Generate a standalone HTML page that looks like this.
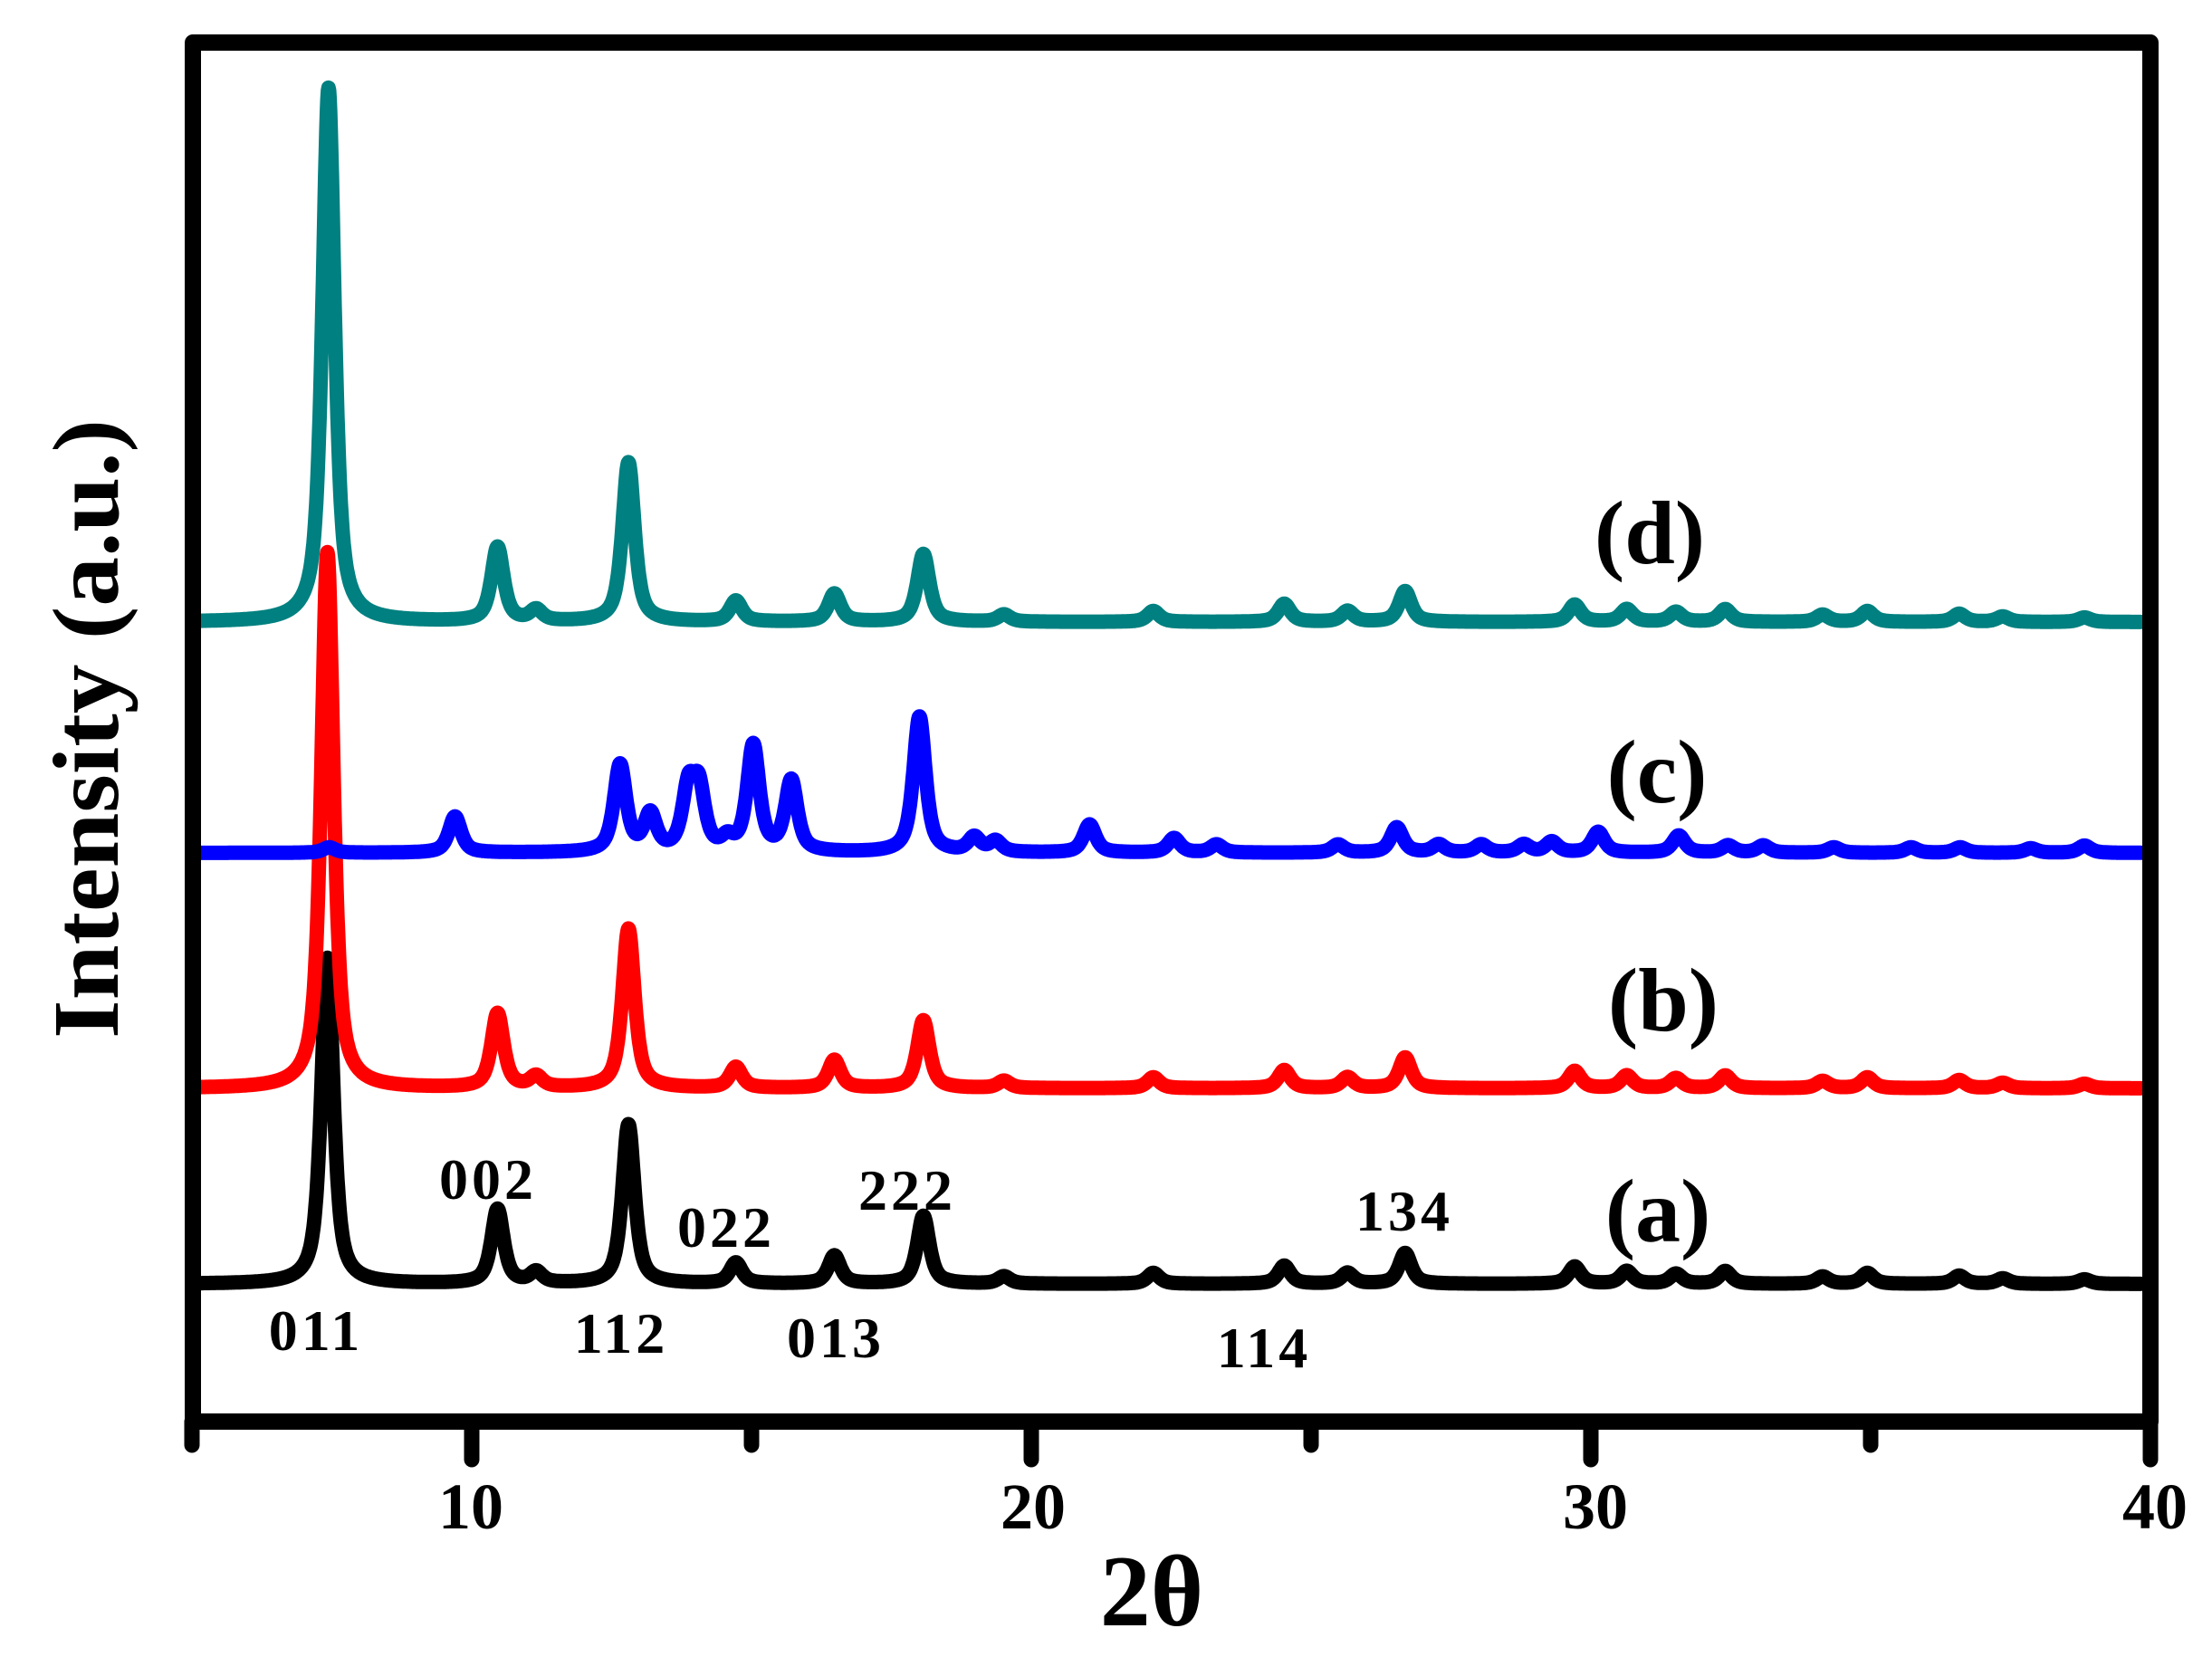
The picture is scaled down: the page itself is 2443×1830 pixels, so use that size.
<!DOCTYPE html>
<html><head><meta charset="utf-8"><style>
html,body{margin:0;padding:0;background:#fff;}
svg{display:block;}
text{font-family:"Liberation Serif","DejaVu Serif",serif;font-weight:bold;fill:#000;}
</style></head><body>
<svg id="s" width="2443" height="1830" viewBox="0 0 2443 1830" xmlns="http://www.w3.org/2000/svg">
<g id="curves" fill="none" stroke-width="16" stroke-linejoin="round" stroke-linecap="round"></g>
<rect x="213" y="47" width="2162" height="1523" fill="none" stroke="#000" stroke-width="18" stroke-linejoin="round"/>
<g stroke="#000" stroke-width="17" stroke-linecap="round">
<line x1="212" y1="1570" x2="212" y2="1596"/>
<line x1="521" y1="1570" x2="521" y2="1612"/>
<line x1="830" y1="1570" x2="830" y2="1596"/>
<line x1="1139" y1="1570" x2="1139" y2="1612"/>
<line x1="1448" y1="1570" x2="1448" y2="1596"/>
<line x1="1757" y1="1570" x2="1757" y2="1612"/>
<line x1="2066" y1="1570" x2="2066" y2="1596"/>
<line x1="2375" y1="1570" x2="2375" y2="1612"/>
</g>
<g font-size="72" text-anchor="middle">
<text x="520" y="1688">10</text>
<text x="1141" y="1688">20</text>
<text x="1762" y="1688">30</text>
<text x="2380" y="1688">40</text>
</g>
<text x="1272" y="1795" font-size="112" text-anchor="middle">2θ</text>
<text transform="translate(130,805) rotate(-90)" font-size="104" text-anchor="middle" textLength="684" lengthAdjust="spacingAndGlyphs">Intensity (a.u.)</text>
<g font-size="100" text-anchor="middle">
<text x="1822" y="622">(d)</text>
<text x="1830" y="886">(c)</text>
<text x="1837" y="1138">(b)</text>
<text x="1831" y="1371">(a)</text>
</g>
<g font-size="64" text-anchor="middle" letter-spacing="4">
<text x="349" y="1491">011</text>
<text x="539" y="1324">002</text>
<text x="686" y="1494">112</text>
<text x="802" y="1377">022</text>
<text x="923" y="1499">013</text>
<text x="1002" y="1336">222</text>
<text x="1396" y="1510">114</text>
<text x="1551" y="1359">134</text>
</g>
</svg>
<script>
(function(){
function X(t){return 526+(t-10)*61.8;}
var common=[[10.38,82],[11.07,12],[12.72,176],[14.64,23],[16.4,31],[17.99,75],[19.43,8],[22.1,12],[24.44,20],[25.57,12],[26.6,34],[29.63,19],[30.56,14],[31.44,11],[32.32,14],[34.06,8],[34.86,12],[36.5,9],[37.28,6],[38.74,5]];
var series=[
{c:"#000000",b:1418,p:[[7.34,360]].concat(common)},
{c:"#ff0000",b:1202,p:[[7.34,592]].concat(common)},
{c:"#0000ff",b:942,p:[[7.37,6],[9.62,40],[12.57,96],[13.11,40],[13.79,65],[13.98,65],[14.49,12],[14.95,117],[15.63,78],[17.92,150],[18.9,16],[19.28,12],[20.96,31],[22.47,16],[23.23,9],[25.4,9],[26.45,28],[27.2,9],[27.96,9],[28.72,9],[29.22,12],[30.05,23],[31.49,19],[32.37,8],[33.0,8],[34.26,6],[35.64,6],[36.52,6],[37.78,5],[38.74,8]]},
{c:"#008080",b:687,p:[[7.36,590]].concat(common)}
];
var g=document.getElementById("curves");
series.forEach(function(s){
 var d="";
 for(var t=5.05;t<=39.75;t+=0.01){
  var y=0;
  s.p.forEach(function(pk){
   var w=0.13;
   var dx=(t-pk[0])/w;
   var L=1/(1+dx*dx), G=Math.exp(-0.693*dx*dx);
   y+=pk[1]*(0.7*L+0.3*G);
  });
  d+=(d?"L":"M")+X(t).toFixed(1)+","+(s.b-y).toFixed(1);
 }
 var p=document.createElementNS("http://www.w3.org/2000/svg","path");
 p.setAttribute("d",d);p.setAttribute("stroke",s.c);
 g.appendChild(p);
});
})();
</script>
</body></html>
